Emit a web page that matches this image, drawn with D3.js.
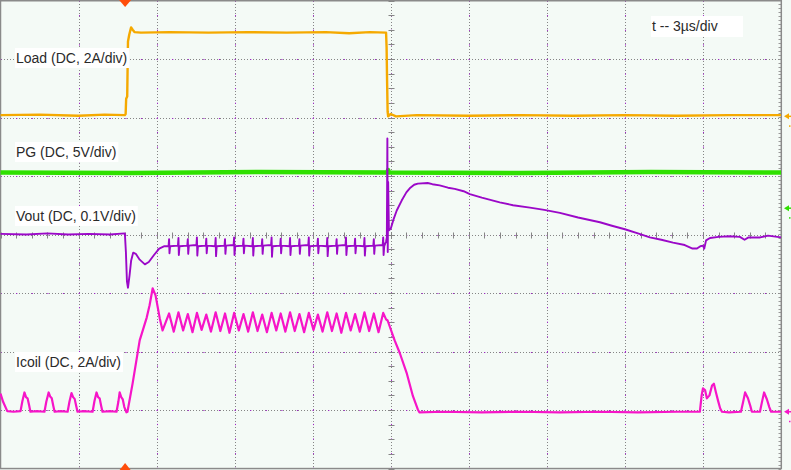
<!DOCTYPE html>
<html><head><meta charset="utf-8">
<script src="https://cdn.jsdelivr.net/npm/d3@7"></script>
<style>html,body{margin:0;padding:0;background:#f4faf6;overflow:hidden}svg{display:block}</style>
</head><body>
<svg id="c" width="791" height="470"></svg>
<script>
// ---- data (time in µs, values in screen divisions from centre) ----
const timeTicks = [0,3,6,9,12,15,18,21,24,27,30];
const divTicks = [-4,-3,-2,-1,0,1,2,3,4];
const channelLabels = ["Load (DC, 2A/div)","PG (DC, 5V/div)","Vout (DC, 0.1V/div)","Icoil (DC, 2A/div)"];
const timebaseLabel = "t -- 3µs/div";
const triggerTime = 4.79;
const refLevels = [2.02, 0.45, -3.03];   // load, pg, icoil ground markers

const loadTrace = [[0,2.04],[1.5,2.05],[3,2.03],[4.0,2.05],[4.78,2.04],[4.81,2.06],[4.83,2.32],[4.87,2.36],[4.9,3.3],[4.95,3.42],[5.02,3.54],[5.08,3.5],[5.15,3.46],[5.4,3.45],[6.5,3.46],[8,3.45],[9.5,3.46],[11,3.45],[12.5,3.46],[13.4,3.44],[14.2,3.46],[14.82,3.45],[14.84,3.2],[14.86,2.6],[14.88,2.1],[14.9,2.02],[15.0,2.06],[15.2,2.02],[16,2.04],[18,2.03],[20,2.04],[22,2.03],[24,2.04],[26,2.03],[28,2.04],[30,2.04]];

const pgTrace = [[0,1.06],[5,1.05],[10,1.07],[14.86,1.06],[14.9,1.1],[14.93,1.06],[20,1.05],[25,1.07],[30,1.06]];

const voutTrace = [[0,0.01],[1,0.0],[1.8,0.02],[2.6,0.0],[3.4,0.01],[4.2,0.0],[4.78,0.02],[4.82,-0.3],[4.86,-0.8],[4.9,-0.91],[4.96,-0.7],[5.02,-0.45],[5.1,-0.31],[5.2,-0.33],[5.35,-0.43],[5.55,-0.51],[5.7,-0.47],[5.9,-0.35],[6.1,-0.24],[6.3,-0.2],
[6.46,-0.2],[6.48,-0.08],[6.495,-0.32],[6.52,-0.2],
[6.82,-0.19],[6.84,-0.06],[6.855,-0.35],[6.88,-0.2],
[7.18,-0.19],[7.20,-0.08],[7.215,-0.33],[7.24,-0.19],
[7.53,-0.18],[7.55,-0.05],[7.565,-0.36],[7.59,-0.2],
[7.89,-0.19],[7.91,-0.07],[7.925,-0.32],[7.95,-0.19],
[8.25,-0.2],[8.27,-0.06],[8.285,-0.37],[8.31,-0.2],
[8.61,-0.19],[8.63,-0.08],[8.645,-0.33],[8.67,-0.19],
[8.96,-0.18],[8.98,-0.05],[8.995,-0.35],[9.02,-0.2],
[9.32,-0.19],[9.34,-0.07],[9.355,-0.32],[9.38,-0.19],
[9.68,-0.2],[9.70,-0.06],[9.715,-0.36],[9.74,-0.2],
[10.04,-0.19],[10.06,-0.08],[10.075,-0.33],[10.1,-0.19],
[10.40,-0.18],[10.42,-0.05],[10.435,-0.38],[10.46,-0.2],
[10.75,-0.19],[10.77,-0.07],[10.785,-0.32],[10.81,-0.19],
[11.11,-0.2],[11.13,-0.06],[11.145,-0.35],[11.17,-0.2],
[11.47,-0.19],[11.49,-0.08],[11.505,-0.33],[11.53,-0.19],
[11.83,-0.18],[11.85,-0.05],[11.865,-0.36],[11.89,-0.2],
[12.18,-0.19],[12.20,-0.07],[12.215,-0.32],[12.24,-0.19],
[12.54,-0.2],[12.56,-0.06],[12.575,-0.37],[12.6,-0.2],
[12.90,-0.19],[12.92,-0.08],[12.935,-0.33],[12.96,-0.19],
[13.26,-0.18],[13.28,-0.05],[13.295,-0.35],[13.32,-0.2],
[13.61,-0.19],[13.63,-0.07],[13.645,-0.32],[13.67,-0.19],
[13.97,-0.2],[13.99,-0.06],[14.005,-0.36],[14.03,-0.2],
[14.33,-0.19],[14.35,-0.08],[14.365,-0.33],[14.39,-0.19],
[14.69,-0.18],[14.71,-0.05],[14.725,-0.35],[14.75,-0.2],
[14.82,-0.12],[14.85,-0.05],[14.87,1.64],[14.885,-0.3],[14.9,0.9],[14.93,0.07],[15.0,0.1],[15.1,0.25],[15.23,0.41],[15.42,0.58],[15.6,0.72],[15.73,0.79],[15.9,0.85],[16.04,0.87],[16.42,0.88],[16.6,0.86],[16.88,0.84],[17.2,0.80],[17.46,0.78],[17.8,0.74],[18.04,0.69],[18.5,0.63],[19.19,0.55],[19.7,0.5],[20.35,0.46],[20.9,0.42],[21.5,0.37],[22.2,0.29],[23.04,0.21],[23.5,0.15],[24,0.09],[24.5,0.02],[24.96,-0.05],[25.4,-0.09],[25.85,-0.14],[26.3,-0.18],[26.6,-0.24],[26.77,-0.24],[26.9,-0.2],[27.0,-0.19],[27.05,-0.24],[27.12,-0.1],[27.27,-0.06],[27.6,-0.04],[28.0,-0.03],[28.42,-0.04],[28.6,-0.09],[28.75,-0.05],[29.2,-0.05],[29.5,-0.02],[30,-0.05]];

const icoilTrace = [[0,-2.72],[0.1,-2.86],[0.26,-3.02],[0.5,-3.03],[0.77,-3.02],[0.84,-2.85],[0.92,-2.70],[0.98,-2.78],[1.04,-2.8],[1.1,-2.92],[1.15,-3.03],[1.4,-3.02],[1.69,-3.03],[1.76,-2.86],[1.85,-2.70],[1.91,-2.77],[1.97,-2.80],[2.03,-2.93],[2.08,-3.03],[2.3,-3.02],[2.58,-3.03],[2.65,-2.86],[2.73,-2.71],[2.79,-2.78],[2.85,-2.81],[2.91,-2.93],[2.96,-3.03],[3.2,-3.02],[3.54,-3.03],[3.61,-2.85],[3.69,-2.70],[3.75,-2.78],[3.81,-2.80],[3.87,-2.93],[3.92,-3.03],[4.2,-3.02],[4.46,-3.03],[4.53,-2.86],[4.58,-2.70],[4.64,-2.78],[4.70,-2.82],[4.76,-2.95],[4.84,-3.04],[4.88,-3.03],[5.08,-2.54],[5.35,-1.81],[5.62,-1.42],[5.73,-1.21],[5.85,-0.92],[5.96,-1.04],[6.12,-1.43],[6.23,-1.64],
[6.48,-1.35],[6.66,-1.66],[6.84,-1.33],[7.02,-1.64],[7.20,-1.36],[7.38,-1.67],[7.55,-1.34],[7.73,-1.63],[7.91,-1.37],[8.09,-1.66],[8.27,-1.33],[8.45,-1.65],[8.63,-1.35],[8.80,-1.68],[8.98,-1.34],[9.16,-1.64],[9.34,-1.36],[9.52,-1.66],[9.70,-1.33],[9.88,-1.65],[10.06,-1.37],[10.24,-1.67],[10.42,-1.34],[10.60,-1.64],[10.77,-1.35],[10.95,-1.66],[11.13,-1.33],[11.31,-1.65],[11.49,-1.36],[11.67,-1.67],[11.85,-1.34],[12.03,-1.63],[12.20,-1.37],[12.38,-1.66],[12.56,-1.33],[12.74,-1.65],[12.92,-1.35],[13.10,-1.68],[13.28,-1.34],[13.46,-1.64],[13.63,-1.36],[13.81,-1.66],[13.99,-1.33],[14.17,-1.65],[14.35,-1.35],[14.53,-1.67],[14.71,-1.34],
[14.82,-1.45],[14.88,-1.47],[15.15,-1.81],[15.35,-2.03],[15.62,-2.38],[15.85,-2.76],[16.04,-2.99],[16.1,-3.04],[17,-3.03],[18.5,-3.04],[20,-3.03],[21.5,-3.04],[23,-3.03],[24.5,-3.04],[26,-3.03],[26.88,-3.03],[26.95,-2.75],[27.0,-2.63],[27.08,-2.66],[27.15,-2.80],[27.25,-2.75],[27.35,-2.58],[27.42,-2.55],[27.5,-2.7],[27.58,-2.84],[27.66,-2.97],[27.73,-3.03],[28.0,-3.04],[28.46,-3.03],[28.55,-2.85],[28.62,-2.70],[28.73,-2.80],[28.82,-2.93],[28.88,-3.03],[29.19,-3.03],[29.28,-2.84],[29.35,-2.70],[29.46,-2.82],[29.55,-2.95],[29.62,-3.03],[30,-3.03]];

// ---- drawing ----
const W = 791, H = 470;
const svg = d3.select("#c");
const x = d3.scaleLinear().domain([0,30]).range([0.5,781]);
const y = d3.scaleLinear().domain([-4,4]).range([468.5,0.5]);
const px = v => Math.round(v) + 0.5;

svg.append("rect").attr("width",W).attr("height",H).attr("fill","#f4faf6");

const grid = svg.append("g");
const GREY = "#858585", GPURP = "#a020c8";
timeTicks.filter(t => t > 0 && t < 30).forEach(t => {
  const xp = px(x(t));
  grid.append("line").attr("x1",xp).attr("x2",xp).attr("y1",1).attr("y2",468)
    .attr("stroke",GREY).attr("stroke-dasharray","1 2");
  grid.append("line").attr("x1",xp).attr("x2",xp).attr("y1",y(4)).attr("y2",468)
    .attr("stroke",GPURP).attr("stroke-dasharray","1.2 13.4");
});
divTicks.filter(d => d > -4 && d < 4).forEach(d => {
  const yp = px(y(d));
  grid.append("line").attr("x1",1).attr("x2",780).attr("y1",yp).attr("y2",yp)
    .attr("stroke",GREY).attr("stroke-dasharray","1 2");
  grid.append("line").attr("x1",x(0)).attr("x2",780).attr("y1",yp).attr("y2",yp)
    .attr("stroke",GPURP).attr("stroke-dasharray","1.2 14.4");
});
const cx = px(x(15)), cy = px(y(0));
d3.range(0, 30.001, 0.6).forEach(t => {
  const xp = px(x(t));
  grid.append("line").attr("x1",xp).attr("x2",xp).attr("y1",cy-3).attr("y2",cy+3).attr("stroke",GREY);
});
d3.range(-4, 4.001, 0.25).forEach(d => {
  const yp = px(y(d));
  grid.append("line").attr("x1",cx-3).attr("x2",cx+3).attr("y1",yp).attr("y2",yp).attr("stroke",GREY);
});
d3.range(-4, 4.001, 0.0667).forEach(d => {
  const yp = px(y(d));
  grid.append("line").attr("x1",778.5).attr("x2",781).attr("y1",yp).attr("y2",yp).attr("stroke","#9a9a9a");
});
svg.append("rect").attr("x",0.5).attr("y",0.75).attr("width",780.8).attr("height",467.8)
  .attr("fill","none").attr("stroke","#8a8a8a").attr("stroke-width",1.5);

// traces
const line = d3.line().x(d => x(d[0])).y(d => y(d[1]));
const traces = svg.append("g").attr("fill","none").attr("stroke-linejoin","round");
traces.append("path").datum(icoilTrace).attr("d",line).attr("stroke","#f615c8").attr("stroke-width",2.2);
traces.append("path").datum(loadTrace).attr("d",line).attr("stroke","#f5a900").attr("stroke-width",2.4);
traces.append("path").datum(pgTrace).attr("d",line).attr("stroke","#2fe000").attr("stroke-width",4.5);
traces.append("path").datum(voutTrace).attr("d",line).attr("stroke","#9b08c8").attr("stroke-width",1.9);

// labels
const FONT = "'Liberation Sans', Arial, Helvetica, sans-serif";
const labelTops = [48, 142, 206, 352];
const lab = svg.append("g");
channelLabels.forEach((s, i) => {
  const gI = lab.append("g");
  const r = gI.append("rect").attr("x",15).attr("y",labelTops[i]).attr("height",20).attr("fill","#ffffff");
  const t = gI.append("text").attr("x",16).attr("y",labelTops[i]+14.5)
    .attr("font-family",FONT).attr("font-size",14).attr("fill","#2a2a2a").text(s);
  r.attr("width", t.node().getComputedTextLength() + 3);
});
lab.append("rect").attr("x",651).attr("y",16).attr("width",92).attr("height",21).attr("fill","#ffffff");
lab.append("text").attr("x",652).attr("y",30.5).attr("font-family",FONT).attr("font-size",14)
  .attr("fill","#2a2a2a").text(timebaseLabel);

// trigger markers
const tx = x(triggerTime);
svg.append("path").attr("d",`M${tx-6},0L${tx+6},0L${tx},7Z`).attr("fill","#ff4d0a");
svg.append("path").attr("d",`M${tx-5.5},470L${tx+5.5},470L${tx},463Z`).attr("fill","#ff4d0a");

// channel ground markers on the right
const refColors = ["#f5a900","#2fe000","#f615c8"];
refLevels.forEach((v, i) => {
  const yp = y(v);
  svg.append("path").attr("d",`M784,${yp}L789,${yp-3}L789,${yp+3}Z`).attr("fill",refColors[i]);
  svg.append("line").attr("x1",788).attr("x2",791).attr("y1",yp).attr("y2",yp).attr("stroke",refColors[i]).attr("stroke-width",1.5);
  svg.append("rect").attr("x",789).attr("y",yp+9).attr("width",1.5).attr("height",1.5).attr("fill",refColors[i]);
});
</script>
</body></html>
